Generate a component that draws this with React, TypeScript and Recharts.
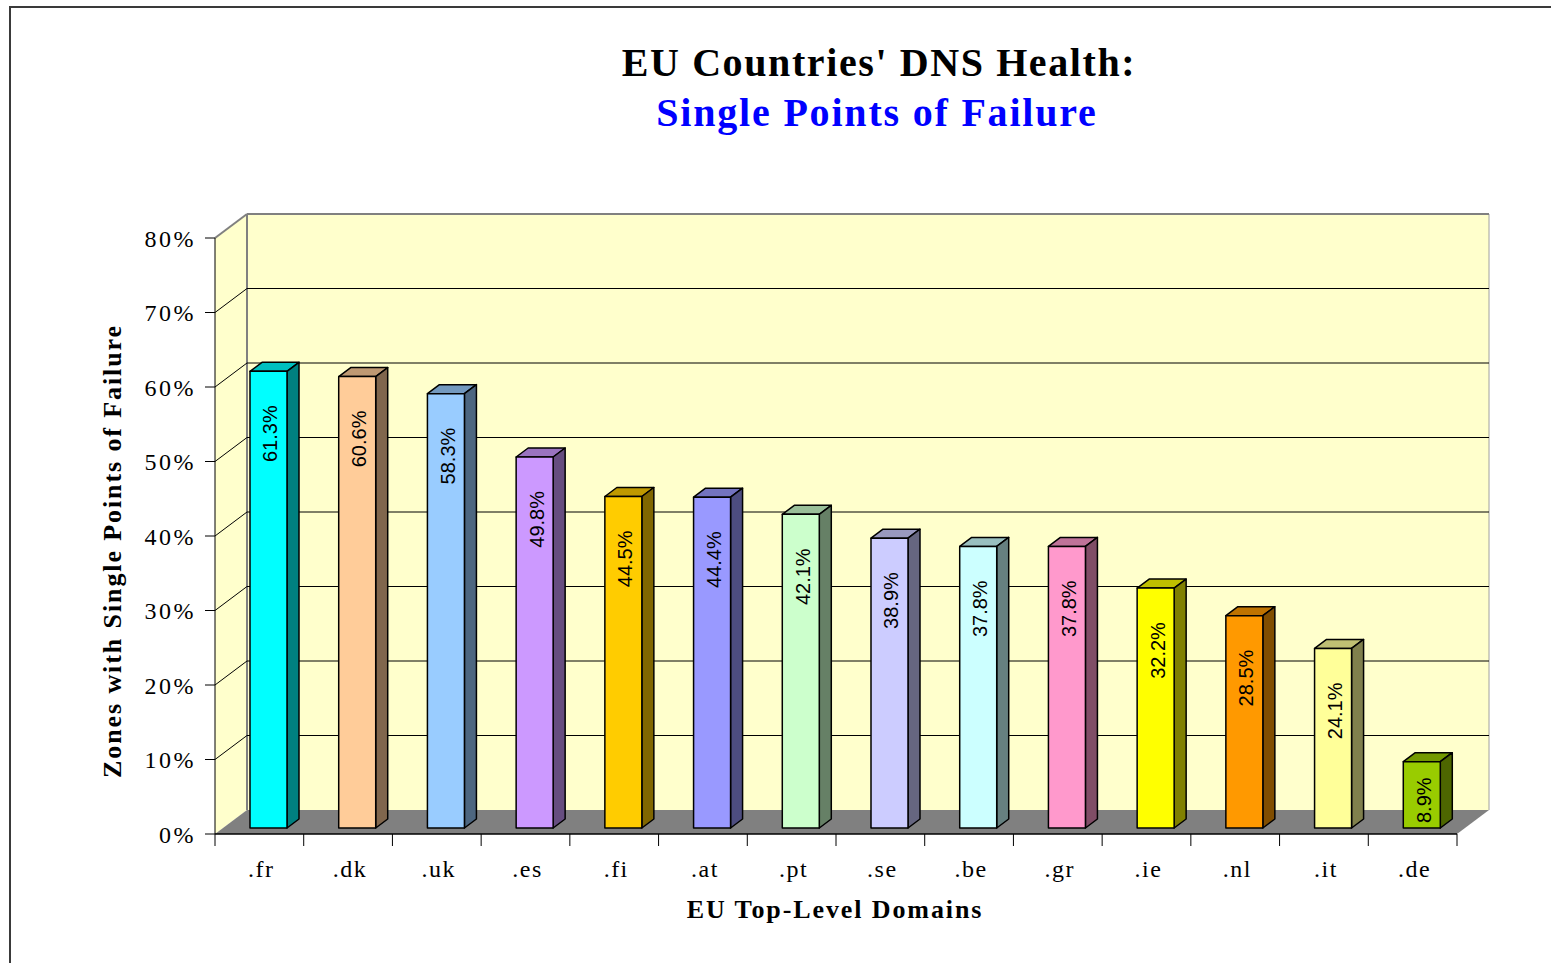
import { BarChart, Bar, XAxis, YAxis, CartesianGrid, LabelList } from "recharts";

// top-level domains, left to right
const CATEGORIES = [".fr", ".dk", ".uk", ".es", ".fi", ".at", ".pt", ".se", ".be", ".gr", ".ie", ".nl", ".it", ".de"];
// share of zones with single points of failure, in %
const SPOF_PCT = [61.3, 60.6, 58.3, 49.8, 44.5, 44.4, 42.1, 38.9, 37.8, 37.8, 32.2, 28.5, 24.1, 8.9];
const Y_TICKS = [0, 10, 20, 30, 40, 50, 60, 70, 80];

// front-face colours (excel palette), top/side faces are darker shades of these
const BAR_COLORS = [
  "#00FFFF", "#FFCC99", "#99CCFF", "#CC99FF", "#FFCC00", "#9999FF", "#CCFFCC",
  "#CCCCFF", "#CCFFFF", "#FF99CC", "#FFFF00", "#FF9900", "#FFFF99", "#99CC00",
];

const W = 1551;
const H = 963;
const PLOT = { left: 215, top: 238, right: 1457, bottom: 834 };
const WALL = { dx: 32, dy: -24 }; // depth of the 3d box
const BAR_OFF = { dx: 9, dy: -6 }; // bars sit a bit back from the front plane
const BAR_DEPTH = { dx: 12, dy: -9 };
const Y_AXIS_W = 100;
const X_AXIS_H = 40;
const STEP = (PLOT.right - PLOT.left) / CATEGORIES.length;
const LABEL_PAD = 34;

const SERIF = '"Liberation Serif", "Times New Roman", serif';
const SANS = '"Liberation Sans", Arial, sans-serif';
const WALL_FILL = "#FFFFCC";
const FLOOR_FILL = "#808080";

const data = CATEGORIES.map((tld, i) => ({ tld, value: SPOF_PCT[i] }));

function shade(hex: string, k: number) {
  const n = parseInt(hex.slice(1), 16);
  const c = [(n >> 16) & 255, (n >> 8) & 255, n & 255].map((v) => Math.round(v * k));
  return `rgb(${c[0]},${c[1]},${c[2]})`;
}

function colorFor(props: any) {
  const idx = props.payload ? CATEGORIES.indexOf(props.payload.tld) : props.index;
  return BAR_COLORS[idx >= 0 ? idx : props.index] ?? "#999999";
}

function Bar3D(props: any) {
  const { x, y, width, height } = props;
  if (!height) return <g />;
  const base = colorFor(props);
  const fx = x + BAR_OFF.dx;
  const fy = y + BAR_OFF.dy;
  const { dx, dy } = BAR_DEPTH;
  return (
    <g stroke="#000" strokeWidth={1.5} strokeLinejoin="round">
      <polygon
        points={`${fx},${fy} ${fx + dx},${fy + dy} ${fx + width + dx},${fy + dy} ${fx + width},${fy}`}
        fill={shade(base, 0.75)}
      />
      <polygon
        points={`${fx + width},${fy} ${fx + width + dx},${fy + dy} ${fx + width + dx},${fy + height + dy} ${fx + width},${fy + height}`}
        fill={shade(base, 0.5)}
      />
      <rect x={fx} y={fy} width={width} height={height} fill={base} />
    </g>
  );
}

// rough arial advance widths at 20px, to keep short-bar labels inside the bar
function labelLength(text: string) {
  let len = 0;
  for (const ch of text) len += ch === "." ? 5.6 : ch === "%" ? 17.8 : 11.1;
  return len;
}

function BarValueLabel(props: any) {
  const x = Number(props.x);
  const y = Number(props.y);
  const width = Number(props.width);
  const height = Number(props.height);
  const text = `${Number(props.value).toFixed(1)}%`;
  const len = labelLength(text);
  const pad = Math.min(LABEL_PAD, height - len - 5);
  const cx = x + width / 2 + 11;
  const ty = y + BAR_OFF.dy + pad;
  return (
    <text
      x={cx}
      y={ty}
      transform={`rotate(-90 ${cx} ${ty})`}
      textAnchor="end"
      dominantBaseline="central"
      fontFamily={SANS}
      fontSize={20}
      fill="#000"
    >
      {text}
    </text>
  );
}

function WallGridLine(p: any) {
  const { x1, y1, x2 } = p;
  if (Math.abs(y1 - PLOT.bottom) < 1) return <g key={p.key} />;
  const isTop = Math.abs(y1 - PLOT.top) < 1;
  const stroke = isTop ? "#808080" : "#000";
  const sw = isTop ? 2 : 1;
  return (
    <g key={p.key}>
      <line x1={x1} y1={y1} x2={x1 + WALL.dx} y2={y1 + WALL.dy} stroke={stroke} strokeWidth={sw} />
      <line x1={x1 + WALL.dx} y1={y1 + WALL.dy} x2={x2 + WALL.dx} y2={y1 + WALL.dy} stroke={stroke} strokeWidth={sw} />
    </g>
  );
}

function BoundaryTick(p: any) {
  const { x, y, payload } = p;
  const left = x - STEP / 2;
  const isLast = payload.value === CATEGORIES[CATEGORIES.length - 1];
  return (
    <g>
      <line x1={left} y1={y} x2={left} y2={y + 12} stroke="#000" />
      {isLast && <line x1={left + STEP} y1={y} x2={left + STEP} y2={y + 12} stroke="#000" />}
      <text x={x + 2} y={y + 43} textAnchor="middle" fontFamily={SERIF} fontSize={24} letterSpacing={1.5} fill="#000">
        {payload.value}
      </text>
    </g>
  );
}

function Backdrop() {
  const { left, top, right, bottom } = PLOT;
  const { dx, dy } = WALL;
  return (
    <svg width={W} height={H} style={{ position: "absolute", left: 0, top: 0 }}>
      <path d={`M10,${H} L10,7 L${W},7`} fill="none" stroke="#3a3a3a" strokeWidth={2} />

      <text x={879} y={76} textAnchor="middle" fontFamily={SERIF} fontWeight="bold" fontSize={40} letterSpacing={1.6} fill="#000">
        EU Countries' DNS Health:
      </text>
      <text x={877} y={126} textAnchor="middle" fontFamily={SERIF} fontWeight="bold" fontSize={40} letterSpacing={1.8} fill="#0000FF">
        Single Points of Failure
      </text>

      {/* side wall, back wall, floor */}
      <polygon points={`${left},${top} ${left + dx},${top + dy} ${left + dx},${bottom + dy} ${left},${bottom}`} fill={WALL_FILL} />
      <rect x={left + dx} y={top + dy} width={right - left} height={bottom - top} fill={WALL_FILL} />
      <polygon points={`${left},${bottom} ${left + dx},${bottom + dy} ${right + dx},${bottom + dy} ${right},${bottom}`} fill={FLOOR_FILL} />
      <line x1={left + dx} y1={top + dy} x2={left + dx} y2={bottom + dy} stroke="#808080" strokeWidth={2} />
      <line x1={right + dx} y1={top + dy} x2={right + dx} y2={bottom + dy} stroke="#a0a0a0" strokeWidth={1} />

      <text
        transform="translate(121,551) rotate(-90)"
        textAnchor="middle"
        fontFamily={SERIF}
        fontWeight="bold"
        fontSize={26}
        letterSpacing={1.9}
        fill="#000"
      >
        Zones with Single Points of Failure
      </text>
      <text x={835} y={918} textAnchor="middle" fontFamily={SERIF} fontWeight="bold" fontSize={26} letterSpacing={1.9} fill="#000">
        EU Top-Level Domains
      </text>
    </svg>
  );
}

export default function App() {
  return (
    <div style={{ position: "absolute", left: 0, top: 0, width: W, height: H, overflow: "hidden", background: "#fff" }}>
      <Backdrop />
      <div style={{ position: "absolute", left: 0, top: 0 }}>
        <BarChart
          width={W}
          height={H}
          data={data}
          margin={{
            top: PLOT.top,
            right: W - PLOT.right,
            bottom: H - PLOT.bottom - X_AXIS_H,
            left: PLOT.left - Y_AXIS_W,
          }}
        >
          <CartesianGrid vertical={false} horizontal={(p: any) => <WallGridLine {...p} />} />
          <XAxis
            dataKey="tld"
            height={X_AXIS_H}
            interval={0}
            tickSize={0}
            tickMargin={0}
            tickLine={false}
            axisLine={{ stroke: "#000", strokeWidth: 1.5 }}
            tick={(p: any) => <BoundaryTick {...p} />}
          />
          <YAxis
            width={Y_AXIS_W}
            domain={[0, 80]}
            ticks={Y_TICKS}
            interval={0}
            tickSize={10}
            tickMargin={9}
            tickFormatter={(v: number) => `${v}%`}
            axisLine={{ stroke: "#000" }}
            tickLine={{ stroke: "#000" }}
            tick={{ fontFamily: SERIF, fontSize: 24, fill: "#000", letterSpacing: 2.5 }}
          />
          <Bar dataKey="value" barSize={37} shape={(p: any) => <Bar3D {...p} />} isAnimationActive={false}>
            <LabelList dataKey="value" content={(p: any) => <BarValueLabel {...p} />} />
          </Bar>
        </BarChart>
      </div>
    </div>
  );
}
